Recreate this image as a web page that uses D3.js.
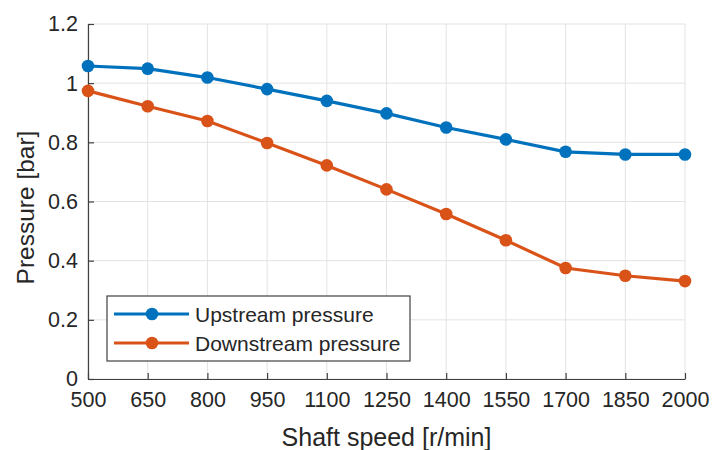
<!DOCTYPE html>
<html lang="en">

<head>
    <meta charset="UTF-8">
    <title>Pressure vs shaft speed</title>
    <script src="https://cdn.jsdelivr.net/npm/d3@7/dist/d3.min.js"></script>

    <style>
        body { margin: 0; background: #fff; }
        svg text { font-family: "Liberation Sans", Arial, Helvetica, sans-serif; fill: #262626; }
        .grid line { stroke: #e3e3e3; stroke-width: 1px; }
        .axis path, .axis line { stroke: #404040; stroke-width: 1.2px; }
    </style>
</head>

<body>

    <svg width="713" height="450"></svg>

    <script>

        var speeds = [500, 650, 800, 950, 1100, 1250, 1400, 1550, 1700, 1850, 2000];
        var upstream = [1.058, 1.049, 1.019, 0.980, 0.940, 0.898, 0.850, 0.810, 0.768, 0.759, 0.759];
        var downstream = [0.974, 0.922, 0.872, 0.798, 0.722, 0.641, 0.558, 0.469, 0.375, 0.349, 0.331];
        var yTicks = [0, 0.2, 0.4, 0.6, 0.8, 1, 1.2];

        var series = [
            { name: "Upstream pressure", values: upstream, color: "#0072BD" },
            { name: "Downstream pressure", values: downstream, color: "#D95319" }
        ];

        var svg = d3.select("svg");
        var plotL = 88, plotR = 685, plotT = 24, plotB = 379;

        var x = d3.scaleLinear().domain([500, 2000]).range([plotL, plotR]);
        var y = d3.scaleLinear().domain([0, 1.2]).range([plotB, plotT]);

        // grid
        var grid = svg.append("g").attr("class", "grid");
        grid.selectAll("line.v").data(speeds).enter().append("line")
            .attr("x1", function(d) { return x(d); }).attr("x2", function(d) { return x(d); })
            .attr("y1", plotT).attr("y2", plotB);
        grid.selectAll("line.h").data(yTicks).enter().append("line")
            .attr("y1", function(d) { return y(d); }).attr("y2", function(d) { return y(d); })
            .attr("x1", plotL).attr("x2", plotR);

        // axes (ticks inside, like matlab)
        svg.append("g").attr("class", "axis")
            .attr("transform", "translate(0," + plotB + ")")
            .call(d3.axisBottom(x).tickValues(speeds).tickSizeInner(-6).tickSizeOuter(0).tickPadding(13)
                .tickFormat(d3.format("d")));
        svg.append("g").attr("class", "axis")
            .attr("transform", "translate(" + plotL + ",0)")
            .call(d3.axisLeft(y).tickValues(yTicks).tickSizeInner(-6).tickSizeOuter(0).tickPadding(10)
                .tickFormat(function(d) { return d3.format("~g")(d); }));

        svg.selectAll(".axis text")
            .style("font-size", "21.5px")
            .attr("fill", "#262626");

        // lines + markers
        var line = d3.line()
            .x(function(d, i) { return x(speeds[i]); })
            .y(function(d) { return y(d); });

        series.forEach(function(s) {
            svg.append("path")
                .datum(s.values)
                .attr("fill", "none")
                .attr("stroke", s.color)
                .attr("stroke-width", 3.2)
                .attr("d", line);

            svg.append("g").selectAll("circle")
                .data(s.values)
                .enter().append("circle")
                .attr("cx", function(d, i) { return x(speeds[i]); })
                .attr("cy", function(d) { return y(d); })
                .attr("r", 6.3)
                .attr("fill", s.color);
        });

        // axis labels
        svg.append("text")
            .attr("x", (plotL + plotR) / 2)
            .attr("y", 446)
            .attr("text-anchor", "middle")
            .style("font-size", "25px")
            .text("Shaft speed [r/min]");

        svg.append("text")
            .attr("transform", "translate(34," + ((plotT + plotB) / 2 + 6) + ") rotate(-90)")
            .attr("text-anchor", "middle")
            .style("font-size", "24.5px")
            .text("Pressure [bar]");

        // legend
        var legend = svg.append("g");
        legend.append("rect")
            .attr("x", 107).attr("y", 296)
            .attr("width", 303).attr("height", 65)
            .attr("fill", "#fff")
            .attr("stroke", "#404040")
            .attr("stroke-width", 1.2);

        series.forEach(function(s, i) {
            var ly = 314 + i * 29;
            legend.append("line")
                .attr("x1", 114).attr("x2", 189)
                .attr("y1", ly).attr("y2", ly)
                .attr("stroke", s.color)
                .attr("stroke-width", 3.2);
            legend.append("circle")
                .attr("cx", 152).attr("cy", ly).attr("r", 6.3)
                .attr("fill", s.color);
            legend.append("text")
                .attr("x", 195).attr("y", ly + 7.5)
                .style("font-size", "21px")
                .text(s.name);
        });

    </script>

</body>

</html>
